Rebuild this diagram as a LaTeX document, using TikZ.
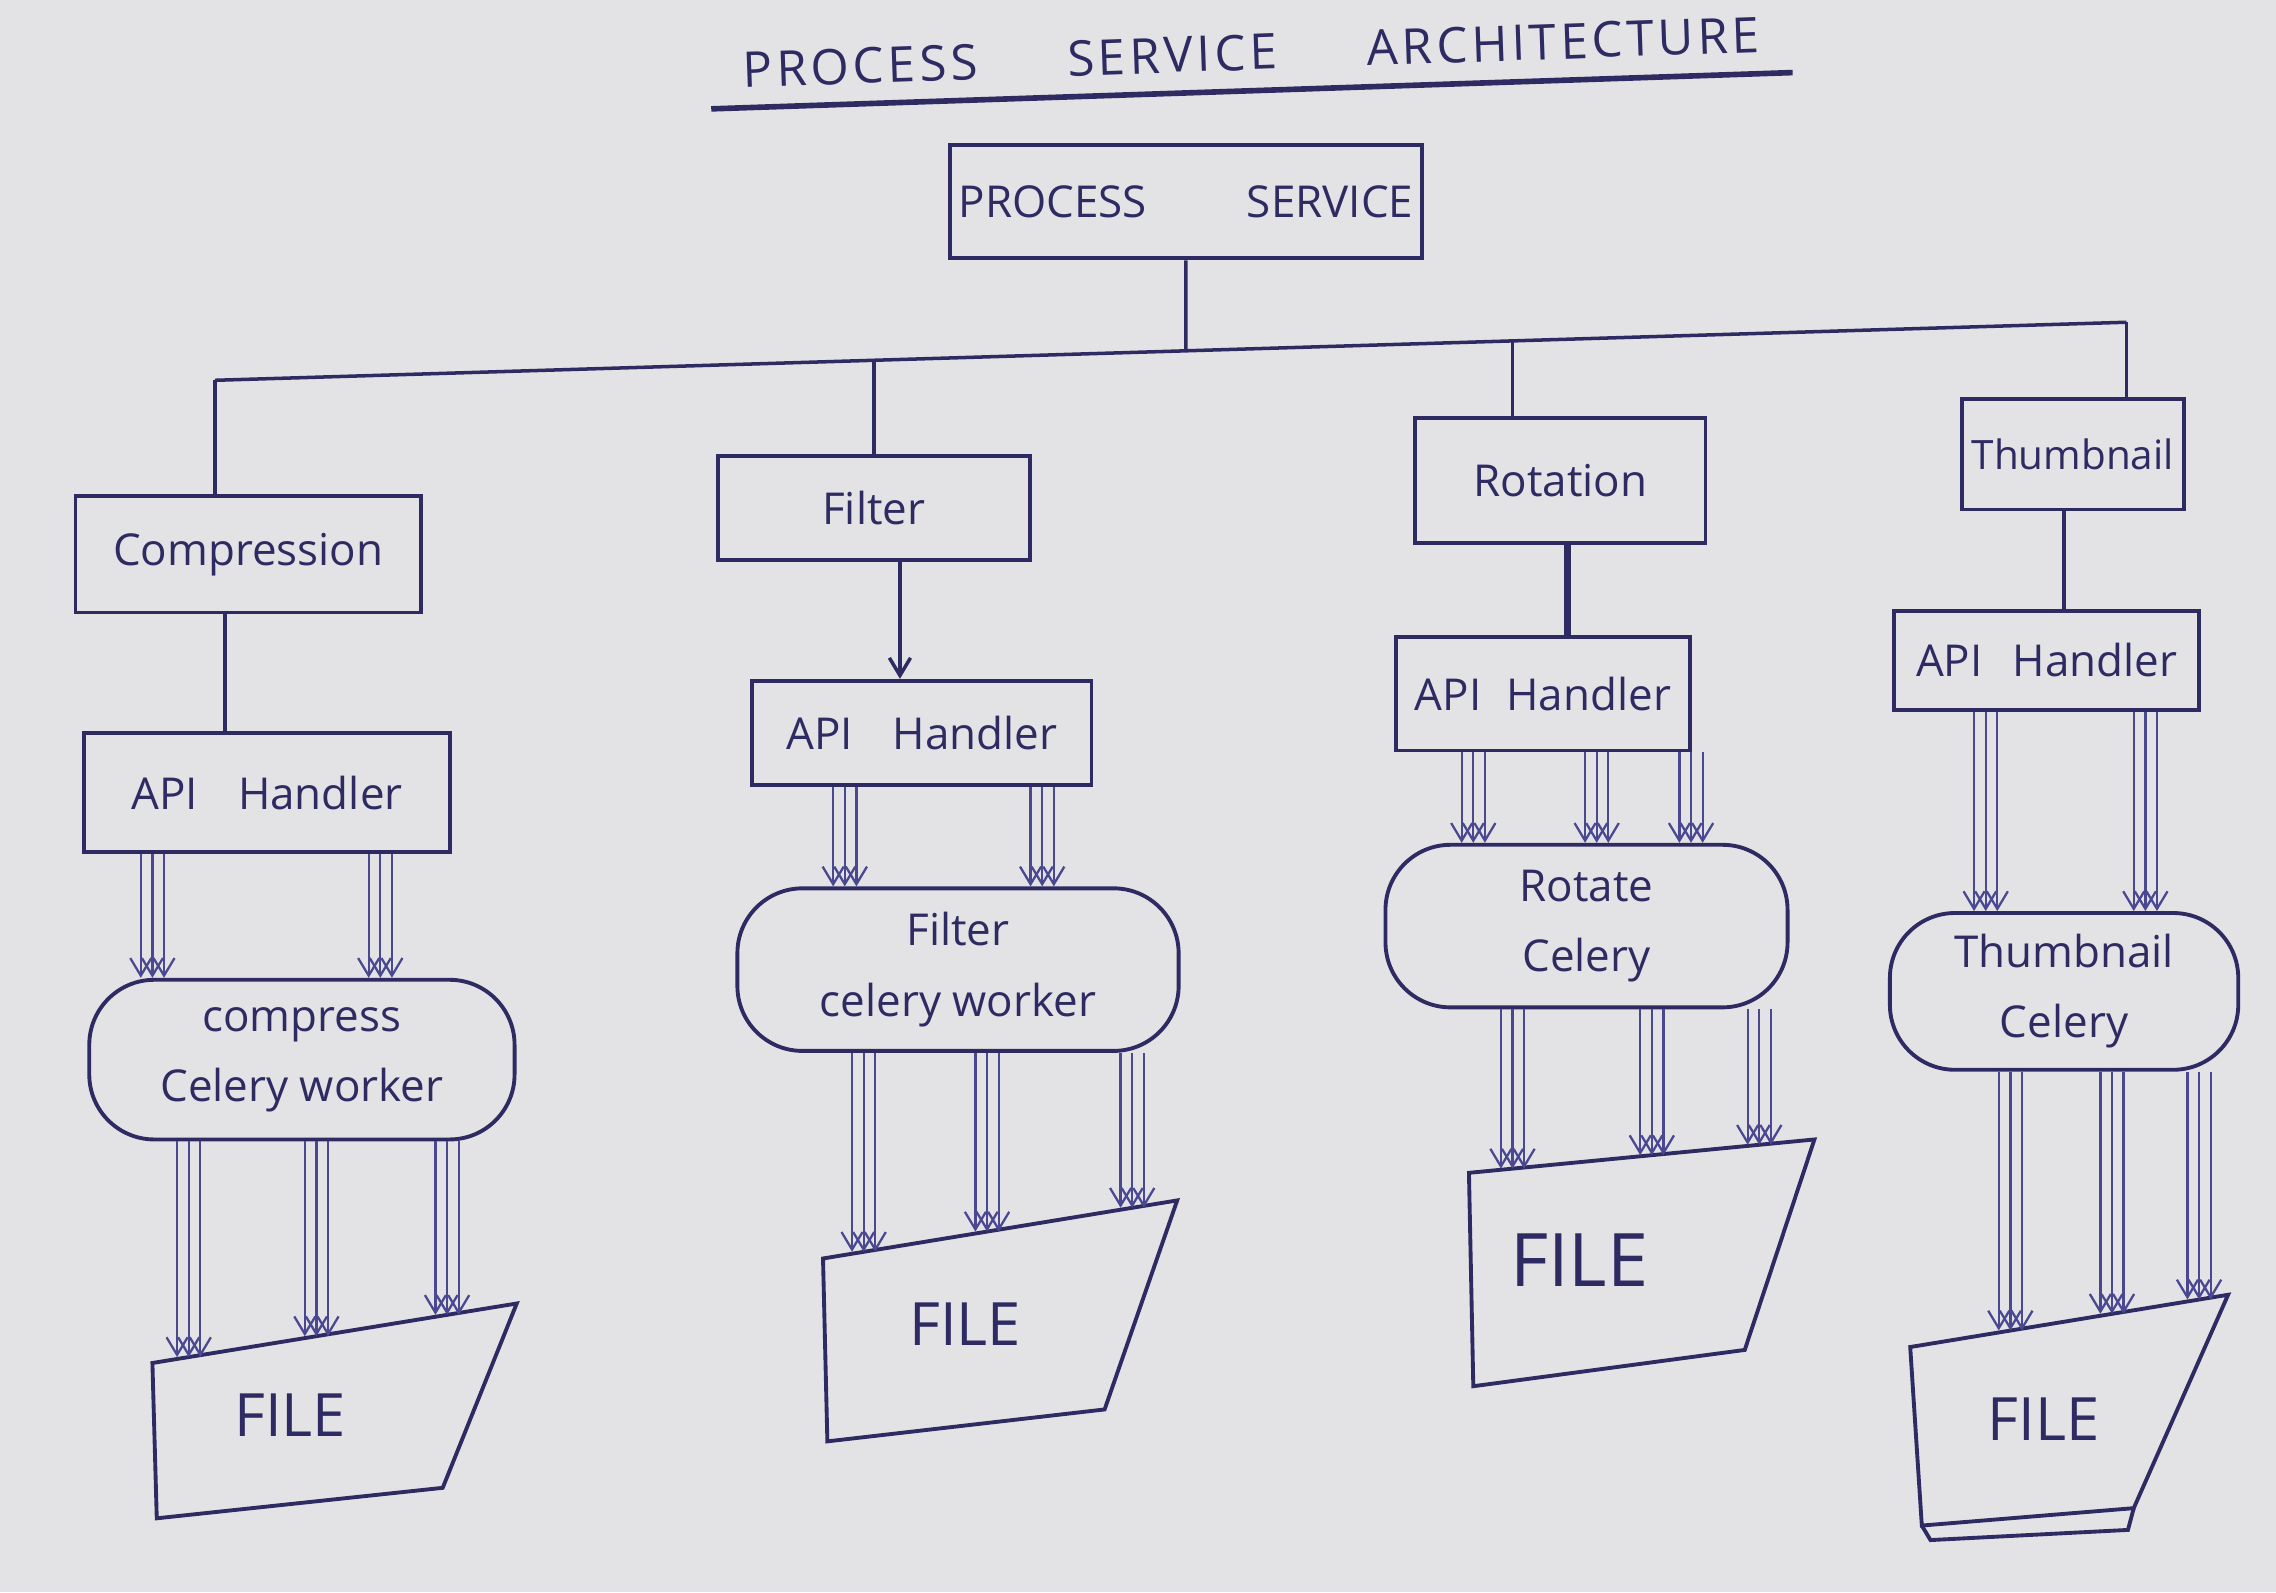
\documentclass[tikz,border=0pt]{standalone}
\usepackage{fontspec}
\setmainfont{Open Sans}
\newfontfamily\titlefont[LetterSpace=8]{Open Sans}
\usetikzlibrary{arrows.meta, calc, positioning}

\definecolor{ink}{HTML}{2E2B63}
\definecolor{pen}{HTML}{4B4892}
\definecolor{paper}{HTML}{E3E3E6}
\def\pu{0.014515}

\tikzset{
  box/.style 2 args={draw=ink, line width=1.1pt, text=ink, inner sep=0pt,
    minimum width=#1*\pu cm, minimum height=#2*\pu cm,
    font=\fontsize{12.5}{15}\selectfont},
  worker/.style 2 args={box={#1}{#2}, rounded corners=0.65cm, align=center,
    font=\fontsize{12.5}{20}\selectfont},
  link/.style={draw=ink, line width=1pt},
  arr/.style={draw=pen, line width=0.65pt, -{Straight Barb[length=5pt,width=6pt]}},
  filebox/.style={draw=ink, line width=1.1pt},
  filetext/.style={text=ink, font=\fontsize{17}{20}\selectfont},
}

% bundle of three arrows at x=#1 from #2 down to #3
\newcommand\flow[3]{%
  \foreach \d in {-8,0,8}{\draw[arr] ($(#1,0 |- #2)+(\d,0)$) -- ($(#1,0 |- #3)+(\d,0)$);}}
% same, ending on the slanted top (#3)--(#4) of a file
\newcommand\fileflow[4]{%
  \coordinate (hit) at (intersection of #1,0--#1,100 and #3--#4);
  \flow{#1}{#2}{hit}}

\begin{document}
\begin{tikzpicture}[x=\pu cm, y=-\pu cm]
  \fill[paper] (0,0) rectangle (1568,1097);
  \useasboundingbox (0,0) rectangle (1568,1097);

  % title
  \node[text=ink, rotate=2, font=\titlefont\fontsize{14}{17}\selectfont] (title) at (862,36)
    {PROCESS\hspace{0.9cm}SERVICE\hspace{0.9cm}ARCHITECTURE};
  \draw[ink, line width=1.6pt] (490,75) -- (1235,50);

  % service and bus
  \node[box={325}{78}] (svc) at (817,139) {PROCESS\hspace{1.0cm}SERVICE};
  \coordinate (busL) at (148,262);
  \coordinate (busR) at (1465,222);
  \coordinate (hub) at (intersection of 817,0--817,100 and busL--busR);
  \coordinate (bus2) at (intersection of 602,0--602,100 and busL--busR);
  \coordinate (bus3) at (intersection of 1042,0--1042,100 and busL--busR);
  \draw[link] (svc.south) -- (hub);
  \draw[link] (busL) -- (busR);

  % compression
  \node[box={238}{80}] (cmp) at (171,382) {Compression};
  \node[box={252}{82}] (api1) at (184,546) {API\hspace{0.4cm}Handler};
  \node[worker={293}{110}] (cel1) at (208,730) {compress\\Celery worker};
  \coordinate (f1a) at (105,939); \coordinate (f1b) at (356,898);
  \coordinate (f1c) at (305,1025); \coordinate (f1d) at (108,1046);
  \draw[filebox] (f1a) -- (f1b) -- (f1c) -- (f1d) -- cycle;
  \node[filetext] (file1) at (200,975) {FILE};
  \draw[link] (busL) -- (busL |- cmp.north);
  \draw[link] (155,0 |- cmp.south) -- (155,0 |- api1.north);
  \flow{105}{api1.south}{cel1.north}
  \flow{262}{api1.south}{cel1.north}
  \fileflow{130}{cel1.south}{f1a}{f1b}
  \fileflow{218}{cel1.south}{f1a}{f1b}
  \fileflow{308}{cel1.south}{f1a}{f1b}

  % filter
  \node[box={215}{72}] (flt) at (602,350) {Filter};
  \node[box={234}{72}] (api2) at (635,505) {API\hspace{0.4cm}Handler};
  \node[worker={304}{112}] (cel2) at (660,668) {Filter\\celery worker};
  \coordinate (f2a) at (567,867); \coordinate (f2b) at (811,827);
  \coordinate (f2c) at (761,971); \coordinate (f2d) at (570,993);
  \draw[filebox] (f2a) -- (f2b) -- (f2c) -- (f2d) -- cycle;
  \node[filetext] (file2) at (665,912) {FILE};
  \draw[link] (bus2) -- (bus2 |- flt.north);
  \draw[link, -{Straight Barb[length=5pt,width=6pt]}] (620,0 |- flt.south) -- (620,0 |- api2.north);
  \flow{582}{api2.south}{cel2.north}
  \flow{718}{api2.south}{cel2.north}
  \fileflow{595}{cel2.south}{f2a}{f2b}
  \fileflow{680}{cel2.south}{f2a}{f2b}
  \fileflow{780}{cel2.south}{f2a}{f2b}

  % rotation
  \node[box={200}{86}] (rot) at (1075,331) {Rotation};
  \node[box={203}{78}] (api3) at (1063,478) {API\hspace{0.25cm}Handler};
  \node[worker={277}{112}] (cel3) at (1093,638) {Rotate\\Celery};
  \coordinate (f3a) at (1012,808); \coordinate (f3b) at (1250,785);
  \coordinate (f3c) at (1202,930); \coordinate (f3d) at (1015,955);
  \draw[filebox] (f3a) -- (f3b) -- (f3c) -- (f3d) -- cycle;
  \node[filetext, font=\fontsize{21}{24}\selectfont] (file3) at (1088,868) {FILE};
  \draw[link] (bus3) -- (bus3 |- rot.north);
  \draw[link, line width=1.8pt] (1080,0 |- rot.south) -- (1080,0 |- api3.north);
  \flow{1015}{api3.south}{cel3.north}
  \flow{1100}{api3.south}{cel3.north}
  \flow{1165}{api3.south}{cel3.north}
  \fileflow{1042}{cel3.south}{f3a}{f3b}
  \fileflow{1138}{cel3.south}{f3a}{f3b}
  \fileflow{1212}{cel3.south}{f3a}{f3b}

  % thumbnail
  \node[box={153}{76}, font=\fontsize{11.5}{14}\selectfont] (thm) at (1428,313) {Thumbnail};
  \node[box={210}{68}] (api4) at (1410,455) {API\hspace{0.3cm}Handler};
  \node[worker={240}{108}] (cel4) at (1422,683) {Thumbnail\\Celery};
  \coordinate (f4a) at (1316,928); \coordinate (f4b) at (1535,892);
  \coordinate (f4c) at (1470,1039); \coordinate (f4d) at (1324,1051);
  \draw[filebox] (f4a) -- (f4b) -- (f4c) -- (f4d) -- cycle;
  \draw[filebox] (f4d) -- (1330,1061) -- (1466,1054) -- (f4c);
  \node[filetext] (file4) at (1408,978) {FILE};
  \draw[link] (busR) -- (busR |- thm.north);
  \draw[link] (1422,0 |- thm.south) -- (1422,0 |- api4.north);
  \flow{1368}{api4.south}{cel4.north}
  \flow{1478}{api4.south}{cel4.north}
  \fileflow{1385}{cel4.south}{f4a}{f4b}
  \fileflow{1455}{cel4.south}{f4a}{f4b}
  \fileflow{1515}{cel4.south}{f4a}{f4b}
\end{tikzpicture}
\end{document}
